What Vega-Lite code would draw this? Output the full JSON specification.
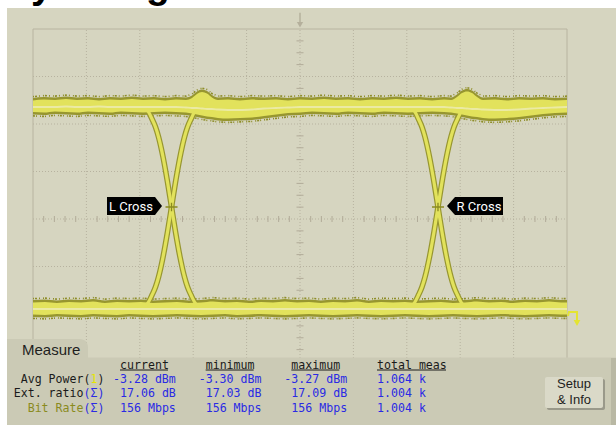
{
  "$schema": "https://vega.github.io/schema/vega-lite/v6.json",
  "width": 616,
  "height": 425,
  "autosize": {"type": "none"},
  "padding": 0,
  "background": "white",
  "datasets": {
    "ui": [
      {"part": "screen", "t1": -0.487, "t2": 10.918, "v1": 4.442, "v2": -4.337},
      {"part": "panel", "t1": -0.487, "t2": 10.918, "v1": -2.916, "v2": -4.337},
      {"part": "tab", "t1": -0.487, "t2": 1.03, "v1": -2.526, "v2": -2.926},
      {"part": "strip", "t1": 10.824, "t2": 10.918, "v1": -2.926, "v2": -4.337},
      {"part": "btnshadow", "t1": 9.625, "t2": 10.712, "v1": -3.368, "v2": -4.021},
      {"part": "btn", "t1": 9.588, "t2": 10.674, "v1": -3.326, "v2": -3.979}
    ],
    "uitext": [
      {"part": "title", "text": "Eye Diagram", "t": -0.524, "v": 4.645},
      {"part": "tab", "text": "Measure", "t": -0.206, "v": -2.863},
      {"part": "btn", "text": "Setup", "t": 10.131, "v": -3.568},
      {"part": "btn", "text": "& Info", "t": 10.131, "v": -3.895}
    ],
    "grid": [
      {"d": "v", "p": 1}, {"d": "v", "p": 2}, {"d": "v", "p": 3}, {"d": "v", "p": 4}, {"d": "v", "p": 5},
      {"d": "v", "p": 6}, {"d": "v", "p": 7}, {"d": "v", "p": 8}, {"d": "v", "p": 9},
      {"d": "h", "p": -3}, {"d": "h", "p": -2}, {"d": "h", "p": -1}, {"d": "h", "p": 0},
      {"d": "h", "p": 1}, {"d": "h", "p": 2}, {"d": "h", "p": 3}
    ],
    "ticks": [
      {"d": "h", "p": 0.2}, {"d": "h", "p": 0.4}, {"d": "h", "p": 0.6}, {"d": "h", "p": 0.8},
      {"d": "h", "p": 1.2}, {"d": "h", "p": 1.4}, {"d": "h", "p": 1.6}, {"d": "h", "p": 1.8},
      {"d": "h", "p": 2.2}, {"d": "h", "p": 2.4}, {"d": "h", "p": 2.6}, {"d": "h", "p": 2.8},
      {"d": "h", "p": 3.2}, {"d": "h", "p": 3.4}, {"d": "h", "p": 3.6}, {"d": "h", "p": 3.8},
      {"d": "h", "p": 4.2}, {"d": "h", "p": 4.4}, {"d": "h", "p": 4.6}, {"d": "h", "p": 4.8},
      {"d": "h", "p": 5.2}, {"d": "h", "p": 5.4}, {"d": "h", "p": 5.6}, {"d": "h", "p": 5.8},
      {"d": "h", "p": 6.2}, {"d": "h", "p": 6.4}, {"d": "h", "p": 6.6}, {"d": "h", "p": 6.8},
      {"d": "h", "p": 7.2}, {"d": "h", "p": 7.4}, {"d": "h", "p": 7.6}, {"d": "h", "p": 7.8},
      {"d": "h", "p": 8.2}, {"d": "h", "p": 8.4}, {"d": "h", "p": 8.6}, {"d": "h", "p": 8.8},
      {"d": "h", "p": 9.2}, {"d": "h", "p": 9.4}, {"d": "h", "p": 9.6}, {"d": "h", "p": 9.8},
      {"d": "v", "p": -3.75}, {"d": "v", "p": -3.5}, {"d": "v", "p": -3.25},
      {"d": "v", "p": -2.75}, {"d": "v", "p": -2.5}, {"d": "v", "p": -2.25},
      {"d": "v", "p": -1.75}, {"d": "v", "p": -1.5}, {"d": "v", "p": -1.25},
      {"d": "v", "p": -0.75}, {"d": "v", "p": -0.5}, {"d": "v", "p": -0.25},
      {"d": "v", "p": 0.25}, {"d": "v", "p": 0.5}, {"d": "v", "p": 0.75},
      {"d": "v", "p": 1.25}, {"d": "v", "p": 1.5}, {"d": "v", "p": 1.75},
      {"d": "v", "p": 2.25}, {"d": "v", "p": 2.5}, {"d": "v", "p": 2.75},
      {"d": "v", "p": 3.25}, {"d": "v", "p": 3.5}, {"d": "v", "p": 3.75}
    ],
    "bands": [
      {"lv": "1", "t": 0, "hi": 2.547, "lo": 2.2, "c": 2.358},
      {"lv": "1", "t": 0.206, "hi": 2.568, "lo": 2.189, "c": 2.358},
      {"lv": "1", "t": 0.412, "hi": 2.558, "lo": 2.211, "c": 2.358},
      {"lv": "1", "t": 0.618, "hi": 2.579, "lo": 2.2, "c": 2.368},
      {"lv": "1", "t": 0.824, "hi": 2.558, "lo": 2.189, "c": 2.358},
      {"lv": "1", "t": 1.03, "hi": 2.568, "lo": 2.211, "c": 2.358},
      {"lv": "1", "t": 1.236, "hi": 2.547, "lo": 2.2, "c": 2.368},
      {"lv": "1", "t": 1.442, "hi": 2.568, "lo": 2.189, "c": 2.358},
      {"lv": "1", "t": 1.648, "hi": 2.558, "lo": 2.211, "c": 2.358},
      {"lv": "1", "t": 1.854, "hi": 2.579, "lo": 2.2, "c": 2.358},
      {"lv": "1", "t": 2.06, "hi": 2.558, "lo": 2.189, "c": 2.358},
      {"lv": "1", "t": 2.266, "hi": 2.568, "lo": 2.2, "c": 2.358},
      {"lv": "1", "t": 2.472, "hi": 2.547, "lo": 2.211, "c": 2.358},
      {"lv": "1", "t": 2.678, "hi": 2.568, "lo": 2.2, "c": 2.358},
      {"lv": "1", "t": 2.865, "hi": 2.558, "lo": 2.189, "c": 2.347},
      {"lv": "1", "t": 2.978, "hi": 2.6, "lo": 2.168, "c": 2.337},
      {"lv": "1", "t": 3.071, "hi": 2.684, "lo": 2.147, "c": 2.337},
      {"lv": "1", "t": 3.165, "hi": 2.726, "lo": 2.126, "c": 2.326},
      {"lv": "1", "t": 3.258, "hi": 2.695, "lo": 2.105, "c": 2.316},
      {"lv": "1", "t": 3.352, "hi": 2.611, "lo": 2.095, "c": 2.316},
      {"lv": "1", "t": 3.464, "hi": 2.558, "lo": 2.074, "c": 2.305},
      {"lv": "1", "t": 3.652, "hi": 2.568, "lo": 2.063, "c": 2.295},
      {"lv": "1", "t": 3.876, "hi": 2.547, "lo": 2.074, "c": 2.295},
      {"lv": "1", "t": 4.101, "hi": 2.568, "lo": 2.084, "c": 2.305},
      {"lv": "1", "t": 4.326, "hi": 2.558, "lo": 2.116, "c": 2.326},
      {"lv": "1", "t": 4.551, "hi": 2.568, "lo": 2.147, "c": 2.337},
      {"lv": "1", "t": 4.775, "hi": 2.547, "lo": 2.179, "c": 2.347},
      {"lv": "1", "t": 5, "hi": 2.568, "lo": 2.189, "c": 2.358},
      {"lv": "1", "t": 5.225, "hi": 2.558, "lo": 2.211, "c": 2.358},
      {"lv": "1", "t": 5.449, "hi": 2.579, "lo": 2.2, "c": 2.358},
      {"lv": "1", "t": 5.674, "hi": 2.558, "lo": 2.189, "c": 2.358},
      {"lv": "1", "t": 5.899, "hi": 2.568, "lo": 2.211, "c": 2.358},
      {"lv": "1", "t": 6.124, "hi": 2.547, "lo": 2.2, "c": 2.358},
      {"lv": "1", "t": 6.348, "hi": 2.568, "lo": 2.189, "c": 2.358},
      {"lv": "1", "t": 6.573, "hi": 2.558, "lo": 2.211, "c": 2.358},
      {"lv": "1", "t": 6.798, "hi": 2.579, "lo": 2.2, "c": 2.358},
      {"lv": "1", "t": 7.022, "hi": 2.558, "lo": 2.189, "c": 2.358},
      {"lv": "1", "t": 7.247, "hi": 2.568, "lo": 2.2, "c": 2.358},
      {"lv": "1", "t": 7.472, "hi": 2.547, "lo": 2.211, "c": 2.358},
      {"lv": "1", "t": 7.697, "hi": 2.568, "lo": 2.2, "c": 2.358},
      {"lv": "1", "t": 7.828, "hi": 2.558, "lo": 2.189, "c": 2.347},
      {"lv": "1", "t": 7.94, "hi": 2.621, "lo": 2.168, "c": 2.337},
      {"lv": "1", "t": 8.034, "hi": 2.705, "lo": 2.147, "c": 2.337},
      {"lv": "1", "t": 8.127, "hi": 2.737, "lo": 2.126, "c": 2.326},
      {"lv": "1", "t": 8.221, "hi": 2.705, "lo": 2.105, "c": 2.316},
      {"lv": "1", "t": 8.315, "hi": 2.621, "lo": 2.095, "c": 2.316},
      {"lv": "1", "t": 8.427, "hi": 2.558, "lo": 2.074, "c": 2.305},
      {"lv": "1", "t": 8.652, "hi": 2.568, "lo": 2.063, "c": 2.295},
      {"lv": "1", "t": 8.876, "hi": 2.547, "lo": 2.074, "c": 2.295},
      {"lv": "1", "t": 9.101, "hi": 2.568, "lo": 2.095, "c": 2.305},
      {"lv": "1", "t": 9.326, "hi": 2.558, "lo": 2.126, "c": 2.326},
      {"lv": "1", "t": 9.551, "hi": 2.568, "lo": 2.158, "c": 2.337},
      {"lv": "1", "t": 9.775, "hi": 2.547, "lo": 2.179, "c": 2.347},
      {"lv": "1", "t": 10, "hi": 2.558, "lo": 2.189, "c": 2.358},
      {"lv": "0", "t": 0, "hi": -1.705, "lo": -2.063, "c": -1.895},
      {"lv": "0", "t": 0.225, "hi": -1.695, "lo": -2.074, "c": -1.895},
      {"lv": "0", "t": 0.449, "hi": -1.716, "lo": -2.053, "c": -1.895},
      {"lv": "0", "t": 0.674, "hi": -1.695, "lo": -2.063, "c": -1.895},
      {"lv": "0", "t": 0.899, "hi": -1.705, "lo": -2.074, "c": -1.895},
      {"lv": "0", "t": 1.124, "hi": -1.684, "lo": -2.053, "c": -1.895},
      {"lv": "0", "t": 1.348, "hi": -1.716, "lo": -2.063, "c": -1.895},
      {"lv": "0", "t": 1.573, "hi": -1.695, "lo": -2.074, "c": -1.895},
      {"lv": "0", "t": 1.798, "hi": -1.705, "lo": -2.053, "c": -1.895},
      {"lv": "0", "t": 2.022, "hi": -1.695, "lo": -2.063, "c": -1.895},
      {"lv": "0", "t": 2.247, "hi": -1.716, "lo": -2.074, "c": -1.895},
      {"lv": "0", "t": 2.472, "hi": -1.705, "lo": -2.063, "c": -1.895},
      {"lv": "0", "t": 2.697, "hi": -1.695, "lo": -2.053, "c": -1.895},
      {"lv": "0", "t": 2.921, "hi": -1.716, "lo": -2.063, "c": -1.895},
      {"lv": "0", "t": 3.146, "hi": -1.705, "lo": -2.074, "c": -1.895},
      {"lv": "0", "t": 3.371, "hi": -1.684, "lo": -2.063, "c": -1.895},
      {"lv": "0", "t": 3.596, "hi": -1.705, "lo": -2.053, "c": -1.895},
      {"lv": "0", "t": 3.82, "hi": -1.695, "lo": -2.074, "c": -1.895},
      {"lv": "0", "t": 4.045, "hi": -1.716, "lo": -2.063, "c": -1.895},
      {"lv": "0", "t": 4.27, "hi": -1.695, "lo": -2.053, "c": -1.895},
      {"lv": "0", "t": 4.494, "hi": -1.705, "lo": -2.063, "c": -1.895},
      {"lv": "0", "t": 4.719, "hi": -1.684, "lo": -2.074, "c": -1.895},
      {"lv": "0", "t": 4.944, "hi": -1.705, "lo": -2.063, "c": -1.895},
      {"lv": "0", "t": 5.169, "hi": -1.695, "lo": -2.053, "c": -1.895},
      {"lv": "0", "t": 5.393, "hi": -1.716, "lo": -2.063, "c": -1.895},
      {"lv": "0", "t": 5.618, "hi": -1.695, "lo": -2.074, "c": -1.895},
      {"lv": "0", "t": 5.843, "hi": -1.705, "lo": -2.063, "c": -1.895},
      {"lv": "0", "t": 6.067, "hi": -1.684, "lo": -2.053, "c": -1.895},
      {"lv": "0", "t": 6.292, "hi": -1.716, "lo": -2.063, "c": -1.895},
      {"lv": "0", "t": 6.517, "hi": -1.695, "lo": -2.074, "c": -1.895},
      {"lv": "0", "t": 6.742, "hi": -1.705, "lo": -2.063, "c": -1.895},
      {"lv": "0", "t": 6.966, "hi": -1.695, "lo": -2.053, "c": -1.895},
      {"lv": "0", "t": 7.191, "hi": -1.716, "lo": -2.063, "c": -1.895},
      {"lv": "0", "t": 7.416, "hi": -1.705, "lo": -2.074, "c": -1.895},
      {"lv": "0", "t": 7.64, "hi": -1.695, "lo": -2.063, "c": -1.895},
      {"lv": "0", "t": 7.865, "hi": -1.716, "lo": -2.053, "c": -1.895},
      {"lv": "0", "t": 8.09, "hi": -1.705, "lo": -2.063, "c": -1.895},
      {"lv": "0", "t": 8.315, "hi": -1.684, "lo": -2.074, "c": -1.895},
      {"lv": "0", "t": 8.539, "hi": -1.705, "lo": -2.063, "c": -1.895},
      {"lv": "0", "t": 8.764, "hi": -1.695, "lo": -2.053, "c": -1.895},
      {"lv": "0", "t": 8.989, "hi": -1.716, "lo": -2.063, "c": -1.895},
      {"lv": "0", "t": 9.213, "hi": -1.695, "lo": -2.074, "c": -1.895},
      {"lv": "0", "t": 9.438, "hi": -1.705, "lo": -2.063, "c": -1.895},
      {"lv": "0", "t": 9.663, "hi": -1.684, "lo": -2.053, "c": -1.895},
      {"lv": "0", "t": 9.888, "hi": -1.705, "lo": -2.063, "c": -1.895},
      {"lv": "0", "t": 10, "hi": -1.705, "lo": -2.063, "c": -1.895}
    ],
    "edges": [
      {"e": "Lr", "t": 1.957, "v": -1.895}, {"e": "Lr", "t": 2.088, "v": -1.842}, {"e": "Lr", "t": 2.163, "v": -1.747},
      {"e": "Lr", "t": 2.229, "v": -1.6}, {"e": "Lr", "t": 2.294, "v": -1.432}, {"e": "Lr", "t": 2.351, "v": -1.221},
      {"e": "Lr", "t": 2.435, "v": -0.8}, {"e": "Lr", "t": 2.519, "v": -0.274}, {"e": "Lr", "t": 2.594, "v": 0.253},
      {"e": "Lr", "t": 2.669, "v": 0.779}, {"e": "Lr", "t": 2.753, "v": 1.305}, {"e": "Lr", "t": 2.837, "v": 1.726},
      {"e": "Lr", "t": 2.894, "v": 1.937}, {"e": "Lr", "t": 2.959, "v": 2.105}, {"e": "Lr", "t": 3.025, "v": 2.253},
      {"e": "Lr", "t": 3.1, "v": 2.337}, {"e": "Lr", "t": 3.231, "v": 2.368},
      {"e": "Lf", "t": 1.957, "v": 2.368}, {"e": "Lf", "t": 2.088, "v": 2.337}, {"e": "Lf", "t": 2.163, "v": 2.253},
      {"e": "Lf", "t": 2.229, "v": 2.105}, {"e": "Lf", "t": 2.294, "v": 1.937}, {"e": "Lf", "t": 2.351, "v": 1.726},
      {"e": "Lf", "t": 2.435, "v": 1.305}, {"e": "Lf", "t": 2.519, "v": 0.779}, {"e": "Lf", "t": 2.594, "v": 0.253},
      {"e": "Lf", "t": 2.669, "v": -0.274}, {"e": "Lf", "t": 2.753, "v": -0.8}, {"e": "Lf", "t": 2.837, "v": -1.221},
      {"e": "Lf", "t": 2.894, "v": -1.432}, {"e": "Lf", "t": 2.959, "v": -1.6}, {"e": "Lf", "t": 3.025, "v": -1.747},
      {"e": "Lf", "t": 3.1, "v": -1.842}, {"e": "Lf", "t": 3.231, "v": -1.895},
      {"e": "Rr", "t": 6.947, "v": -1.895}, {"e": "Rr", "t": 7.078, "v": -1.842}, {"e": "Rr", "t": 7.153, "v": -1.747},
      {"e": "Rr", "t": 7.219, "v": -1.6}, {"e": "Rr", "t": 7.284, "v": -1.432}, {"e": "Rr", "t": 7.341, "v": -1.221},
      {"e": "Rr", "t": 7.425, "v": -0.8}, {"e": "Rr", "t": 7.509, "v": -0.274}, {"e": "Rr", "t": 7.584, "v": 0.253},
      {"e": "Rr", "t": 7.659, "v": 0.779}, {"e": "Rr", "t": 7.743, "v": 1.305}, {"e": "Rr", "t": 7.827, "v": 1.726},
      {"e": "Rr", "t": 7.884, "v": 1.937}, {"e": "Rr", "t": 7.949, "v": 2.105}, {"e": "Rr", "t": 8.015, "v": 2.253},
      {"e": "Rr", "t": 8.09, "v": 2.337}, {"e": "Rr", "t": 8.221, "v": 2.368},
      {"e": "Rf", "t": 6.947, "v": 2.368}, {"e": "Rf", "t": 7.078, "v": 2.337}, {"e": "Rf", "t": 7.153, "v": 2.253},
      {"e": "Rf", "t": 7.219, "v": 2.105}, {"e": "Rf", "t": 7.284, "v": 1.937}, {"e": "Rf", "t": 7.341, "v": 1.726},
      {"e": "Rf", "t": 7.425, "v": 1.305}, {"e": "Rf", "t": 7.509, "v": 0.779}, {"e": "Rf", "t": 7.584, "v": 0.253},
      {"e": "Rf", "t": 7.659, "v": -0.274}, {"e": "Rf", "t": 7.743, "v": -0.8}, {"e": "Rf", "t": 7.827, "v": -1.221},
      {"e": "Rf", "t": 7.884, "v": -1.432}, {"e": "Rf", "t": 7.949, "v": -1.6}, {"e": "Rf", "t": 8.015, "v": -1.747},
      {"e": "Rf", "t": 8.09, "v": -1.842}, {"e": "Rf", "t": 8.221, "v": -1.895}
    ],
    "cross": [
      {"name": "L Cross", "side": "L", "t": 2.594, "v": 0.253},
      {"name": "R Cross", "side": "R", "t": 7.584, "v": 0.253}
    ],
    "gnd": [
      {"i": 0, "t": 10.019, "v": -2.042},
      {"i": 1, "t": 10.037, "v": -1.958},
      {"i": 2, "t": 10.187, "v": -1.958},
      {"i": 3, "t": 10.187, "v": -2.147}
    ],
    "meas": [
      {"row": "head", "col": "current", "role": "head", "text": "current"},
      {"row": "head", "col": "minimum", "role": "head", "text": "minimum"},
      {"row": "head", "col": "maximum", "role": "head", "text": "maximum"},
      {"row": "head", "col": "total", "role": "head", "text": "total meas"},
      {"row": "avg", "col": "current", "role": "value", "text": "-3.28 dBm"},
      {"row": "avg", "col": "minimum", "role": "value", "text": "-3.30 dBm"},
      {"row": "avg", "col": "maximum", "role": "value", "text": "-3.27 dBm"},
      {"row": "avg", "col": "total", "role": "value", "text": "1.064 k"},
      {"row": "ext", "col": "current", "role": "value", "text": "17.06 dB"},
      {"row": "ext", "col": "minimum", "role": "value", "text": "17.03 dB"},
      {"row": "ext", "col": "maximum", "role": "value", "text": "17.09 dB"},
      {"row": "ext", "col": "total", "role": "value", "text": "1.004 k"},
      {"row": "bit", "col": "current", "role": "value", "text": "156 Mbps"},
      {"row": "bit", "col": "minimum", "role": "value", "text": "156 Mbps"},
      {"row": "bit", "col": "maximum", "role": "value", "text": "156 Mbps"},
      {"row": "bit", "col": "total", "role": "value", "text": "1.004 k"}
    ],
    "lab": [
      {"row": "avg", "seg": "b", "role": "name", "text": "Avg Power("},
      {"row": "avg", "seg": "c", "role": "chan", "text": "1"},
      {"row": "avg", "seg": "d", "role": "name", "text": ")"},
      {"row": "ext", "seg": "a", "role": "name", "text": "Ext. ratio"},
      {"row": "ext", "seg": "d", "role": "sum", "text": "(Σ)"},
      {"row": "bit", "seg": "a", "role": "bitname", "text": "Bit Rate"},
      {"row": "bit", "seg": "d", "role": "sum", "text": "(Σ)"}
    ]
  },
  "layer": [
    {
      "layer": [
        {
          "data": {"name": "ui"},
          "transform": [{"filter": "datum.part === 'screen'"}],
          "mark": {"type": "rect", "color": "#d6d5c0"},
          "encoding": {
            "x": {"field": "t1", "type": "quantitative", "axis": null, "scale": {"domain": [0, 10], "range": [33, 567], "nice": false, "zero": false}},
            "x2": {"field": "t2"},
            "y": {"field": "v1", "type": "quantitative", "axis": null, "scale": {"domain": [-4, 4], "range": [409, 29], "nice": false, "zero": false}},
            "y2": {"field": "v2"}
          }
        },
        {
          "data": {"name": "uitext"},
          "transform": [{"filter": "datum.part === 'title'"}],
          "mark": {"type": "text", "align": "left", "baseline": "alphabetic", "font": "Liberation Sans", "fontSize": 39, "fontWeight": "bold", "color": "#000000"},
          "encoding": {
            "x": {"field": "t", "type": "quantitative"},
            "y": {"field": "v", "type": "quantitative"},
            "text": {"field": "text"}
          }
        },
        {
          "data": {"name": "grid"},
          "transform": [{"filter": "datum.d === 'v'"}],
          "mark": {"type": "rule", "color": "#b7b29f", "strokeDash": [1, 2], "strokeWidth": 1},
          "encoding": {
            "x": {"field": "p", "type": "quantitative"},
            "y": {"datum": -4, "type": "quantitative"},
            "y2": {"datum": 4}
          }
        },
        {
          "data": {"name": "grid"},
          "transform": [{"filter": "datum.d === 'h'"}],
          "mark": {"type": "rule", "color": "#b7b29f", "strokeDash": [1, 2], "strokeWidth": 1},
          "encoding": {
            "y": {"field": "p", "type": "quantitative"},
            "x": {"datum": 0, "type": "quantitative"},
            "x2": {"datum": 10}
          }
        },
        {
          "data": {"name": "ticks"},
          "transform": [{"filter": "datum.d === 'h'"}],
          "mark": {"type": "tick", "orient": "vertical", "size": 6, "thickness": 1, "color": "#b1ab98", "opacity": 1},
          "encoding": {
            "x": {"field": "p", "type": "quantitative"},
            "y": {"datum": 0, "type": "quantitative"}
          }
        },
        {
          "data": {"name": "ticks"},
          "transform": [{"filter": "datum.d === 'v'"}],
          "mark": {"type": "tick", "orient": "horizontal", "size": 7, "thickness": 1, "color": "#b1ab98", "opacity": 1},
          "encoding": {
            "y": {"field": "p", "type": "quantitative"},
            "x": {"datum": 5, "type": "quantitative"}
          }
        },
        {
          "data": {"values": [{}]},
          "mark": {"type": "rect", "filled": false, "stroke": "#b8b4a0", "strokeWidth": 1},
          "encoding": {
            "x": {"datum": 0, "type": "quantitative"},
            "x2": {"datum": 10},
            "y": {"datum": -4, "type": "quantitative"},
            "y2": {"datum": 4}
          }
        },
        {
          "data": {"values": [{}]},
          "mark": {"type": "rule", "color": "#b5b09c", "strokeWidth": 1.5},
          "encoding": {
            "x": {"datum": 5, "type": "quantitative"},
            "y": {"datum": 4.34, "type": "quantitative"},
            "y2": {"datum": 4.12}
          }
        },
        {
          "data": {"values": [{}]},
          "mark": {"type": "point", "shape": "triangle-down", "filled": true, "size": 40, "color": "#b5b09c", "opacity": 1},
          "encoding": {
            "x": {"datum": 5, "type": "quantitative"},
            "y": {"datum": 4.09, "type": "quantitative"}
          }
        },
        {
          "data": {"name": "bands"},
          "mark": {"type": "area", "color": "#979630", "interpolate": "monotone", "opacity": 1},
          "encoding": {
            "x": {"field": "t", "type": "quantitative"},
            "y": {"field": "hi", "type": "quantitative"},
            "y2": {"field": "lo"},
            "detail": {"field": "lv"}
          }
        },
        {
          "data": {"name": "bands"},
          "mark": {"type": "line", "color": "#8e8d28", "strokeWidth": 1.6, "strokeDash": [1, 1, 2, 2, 1, 3], "yOffset": -1.4},
          "encoding": {
            "x": {"field": "t", "type": "quantitative"},
            "y": {"field": "hi", "type": "quantitative"},
            "detail": {"field": "lv"}
          }
        },
        {
          "data": {"name": "bands"},
          "mark": {"type": "line", "color": "#8e8d28", "strokeWidth": 1.6, "strokeDash": [2, 1, 1, 3, 1, 1], "yOffset": 1.4},
          "encoding": {
            "x": {"field": "t", "type": "quantitative"},
            "y": {"field": "lo", "type": "quantitative"},
            "detail": {"field": "lv"}
          }
        },
        {
          "data": {"name": "edges"},
          "mark": {"type": "line", "color": "#979630", "strokeWidth": 5.6, "interpolate": "monotone"},
          "encoding": {
            "x": {"field": "t", "type": "quantitative"},
            "y": {"field": "v", "type": "quantitative"},
            "detail": {"field": "e"}
          }
        },
        {
          "data": {"name": "bands"},
          "mark": {"type": "area", "color": "#e2e25c", "interpolate": "monotone", "opacity": 1, "yOffset": 2.6, "y2Offset": -2.6},
          "encoding": {
            "x": {"field": "t", "type": "quantitative"},
            "y": {"field": "hi", "type": "quantitative"},
            "y2": {"field": "lo"},
            "detail": {"field": "lv"}
          }
        },
        {
          "data": {"name": "edges"},
          "mark": {"type": "line", "color": "#e2e25c", "strokeWidth": 3.2, "interpolate": "monotone"},
          "encoding": {
            "x": {"field": "t", "type": "quantitative"},
            "y": {"field": "v", "type": "quantitative"},
            "detail": {"field": "e"}
          }
        },
        {
          "data": {"name": "bands"},
          "mark": {"type": "line", "color": "#ecebb0", "strokeWidth": 1.8, "opacity": 0.85, "interpolate": "monotone"},
          "encoding": {
            "x": {"field": "t", "type": "quantitative"},
            "y": {"field": "c", "type": "quantitative"},
            "detail": {"field": "lv"}
          }
        },
        {
          "data": {"name": "cross"},
          "mark": {"type": "point", "shape": "M-1,0L1,0M0,-0.7L0,0.7", "filled": false, "stroke": "#8a8a20", "strokeWidth": 1.3, "size": 144, "opacity": 1},
          "encoding": {
            "x": {"field": "t", "type": "quantitative"},
            "y": {"field": "v", "type": "quantitative"}
          }
        },
        {
          "data": {"name": "cross"},
          "transform": [{"filter": "datum.side === 'L'"}],
          "mark": {"type": "point", "shape": "M-1,-0.327L0.745,-0.327L1,0L0.745,0.327L-1,0.327Z", "filled": true, "color": "#000000", "size": 3025, "opacity": 1, "xOffset": -37, "yOffset": -1},
          "encoding": {
            "x": {"field": "t", "type": "quantitative"},
            "y": {"field": "v", "type": "quantitative"}
          }
        },
        {
          "data": {"name": "cross"},
          "transform": [{"filter": "datum.side === 'R'"}],
          "mark": {"type": "point", "shape": "M1,-0.321L-0.714,-0.321L-1,0L-0.714,0.321L1,0.321Z", "filled": true, "color": "#000000", "size": 3136, "opacity": 1, "xOffset": 37, "yOffset": -1},
          "encoding": {
            "x": {"field": "t", "type": "quantitative"},
            "y": {"field": "v", "type": "quantitative"}
          }
        },
        {
          "data": {"name": "cross"},
          "transform": [{"filter": "datum.side === 'L'"}],
          "mark": {"type": "text", "color": "#ffffff", "font": "Roboto", "fontSize": 13, "align": "center", "baseline": "middle", "dx": -40.5, "dy": 0},
          "encoding": {
            "x": {"field": "t", "type": "quantitative"},
            "y": {"field": "v", "type": "quantitative"},
            "text": {"field": "name"}
          }
        },
        {
          "data": {"name": "cross"},
          "transform": [{"filter": "datum.side === 'R'"}],
          "mark": {"type": "text", "color": "#ffffff", "font": "Roboto", "fontSize": 13, "align": "center", "baseline": "middle", "dx": 41, "dy": 0},
          "encoding": {
            "x": {"field": "t", "type": "quantitative"},
            "y": {"field": "v", "type": "quantitative"},
            "text": {"field": "name"}
          }
        },
        {
          "data": {"name": "gnd"},
          "mark": {"type": "line", "color": "#e4e432", "strokeWidth": 2},
          "encoding": {
            "x": {"field": "t", "type": "quantitative"},
            "y": {"field": "v", "type": "quantitative"},
            "order": {"field": "i"}
          }
        },
        {
          "data": {"values": [{}]},
          "mark": {"type": "point", "shape": "triangle-down", "filled": true, "size": 45, "color": "#e4e432", "opacity": 1},
          "encoding": {
            "x": {"datum": 10.187, "type": "quantitative"},
            "y": {"datum": -2.19, "type": "quantitative"}
          }
        },
        {
          "data": {"name": "ui"},
          "transform": [{"filter": "datum.part === 'panel'"}],
          "mark": {"type": "rect", "color": "#cbcab5"},
          "encoding": {
            "x": {"field": "t1", "type": "quantitative"},
            "x2": {"field": "t2"},
            "y": {"field": "v1", "type": "quantitative"},
            "y2": {"field": "v2"}
          }
        },
        {
          "data": {"name": "ui"},
          "transform": [{"filter": "datum.part === 'tab'"}],
          "mark": {"type": "rect", "color": "#cbcab5", "cornerRadiusTopRight": 8},
          "encoding": {
            "x": {"field": "t1", "type": "quantitative"},
            "x2": {"field": "t2"},
            "y": {"field": "v1", "type": "quantitative"},
            "y2": {"field": "v2"}
          }
        },
        {
          "data": {"name": "ui"},
          "transform": [{"filter": "datum.part === 'strip'"}],
          "mark": {"type": "rect", "color": "#b9b8a4"},
          "encoding": {
            "x": {"field": "t1", "type": "quantitative"},
            "x2": {"field": "t2"},
            "y": {"field": "v1", "type": "quantitative"},
            "y2": {"field": "v2"}
          }
        },
        {
          "data": {"name": "ui"},
          "transform": [{"filter": "datum.part === 'btnshadow'"}],
          "mark": {"type": "rect", "color": "#9a998a", "cornerRadius": 2},
          "encoding": {
            "x": {"field": "t1", "type": "quantitative"},
            "x2": {"field": "t2"},
            "y": {"field": "v1", "type": "quantitative"},
            "y2": {"field": "v2"}
          }
        },
        {
          "data": {"name": "ui"},
          "transform": [{"filter": "datum.part === 'btn'"}],
          "mark": {"type": "rect", "color": "#dad9c8", "cornerRadius": 2},
          "encoding": {
            "x": {"field": "t1", "type": "quantitative"},
            "x2": {"field": "t2"},
            "y": {"field": "v1", "type": "quantitative"},
            "y2": {"field": "v2"}
          }
        },
        {
          "data": {"name": "uitext"},
          "transform": [{"filter": "datum.part === 'tab'"}],
          "mark": {"type": "text", "align": "left", "baseline": "alphabetic", "font": "Liberation Sans", "fontSize": 15, "color": "#1e1e1e"},
          "encoding": {
            "x": {"field": "t", "type": "quantitative"},
            "y": {"field": "v", "type": "quantitative"},
            "text": {"field": "text"}
          }
        },
        {
          "data": {"name": "uitext"},
          "transform": [{"filter": "datum.part === 'btn'"}],
          "mark": {"type": "text", "align": "center", "baseline": "alphabetic", "font": "Liberation Sans", "fontSize": 13, "color": "#1e1e1e"},
          "encoding": {
            "x": {"field": "t", "type": "quantitative"},
            "y": {"field": "v", "type": "quantitative"},
            "text": {"field": "text"}
          }
        }
      ]
    },
    {
      "layer": [
        {
          "data": {"name": "meas"},
          "transform": [{"filter": "datum.role === 'head' || (datum.role === 'value' && indexof(datum.text, '-') !== 0)"}],
          "mark": {"type": "text", "align": "left", "baseline": "alphabetic", "font": "DejaVu Sans Mono", "fontSize": 11.6},
          "encoding": {
            "x": {"field": "col", "type": "nominal", "axis": null, "scale": {"type": "point", "domain": ["current", "minimum", "maximum", "total"], "range": [120, 377], "padding": 0}},
            "y": {"field": "row", "type": "nominal", "axis": null, "scale": {"type": "point", "domain": ["head", "avg", "ext", "bit"], "range": [368.5, 411.5], "padding": 0}},
            "text": {"field": "text"},
            "color": {"field": "role", "type": "nominal", "legend": null, "scale": {"domain": ["name", "bitname", "chan", "sum", "value", "head"], "range": ["#1a1a1a", "#8a8a1e", "#e6e600", "#2a2ae4", "#2a2ae4", "#1a1a1a"]}}
          }
        },
        {
          "data": {"name": "meas"},
          "transform": [{"filter": "datum.role === 'head' && datum.col !== 'total'"}],
          "mark": {"type": "rule", "color": "#1a1a1a", "strokeWidth": 1, "x2Offset": 48, "yOffset": 1.5},
          "encoding": {
            "x": {"field": "col", "type": "nominal"},
            "x2": {"field": "col"},
            "y": {"field": "row", "type": "nominal"}
          }
        },
        {
          "data": {"name": "meas"},
          "transform": [{"filter": "datum.role === 'head' && datum.col === 'total'"}],
          "mark": {"type": "rule", "color": "#1a1a1a", "strokeWidth": 1, "x2Offset": 69, "yOffset": 1.5},
          "encoding": {
            "x": {"field": "col", "type": "nominal"},
            "x2": {"field": "col"},
            "y": {"field": "row", "type": "nominal"}
          }
        },
        {
          "data": {"name": "meas"},
          "transform": [{"filter": "datum.role === 'value' && indexof(datum.text, '-') === 0"}],
          "mark": {"type": "text", "align": "left", "baseline": "alphabetic", "font": "DejaVu Sans Mono", "fontSize": 11.6, "dx": -7},
          "encoding": {
            "x": {"field": "col", "type": "nominal"},
            "y": {"field": "row", "type": "nominal"},
            "text": {"field": "text"},
            "color": {"field": "role", "type": "nominal", "legend": null}
          }
        },
        {
          "data": {"name": "lab"},
          "transform": [{"filter": "datum.seg === 'a'"}],
          "mark": {"type": "text", "align": "right", "baseline": "alphabetic", "font": "DejaVu Sans Mono", "fontSize": 11.6, "dx": -36.5},
          "encoding": {
            "x": {"datum": "current", "type": "nominal"},
            "y": {"field": "row", "type": "nominal"},
            "text": {"field": "text"},
            "color": {"field": "role", "type": "nominal", "legend": null}
          }
        },
        {
          "data": {"name": "lab"},
          "transform": [{"filter": "datum.seg === 'b'"}],
          "mark": {"type": "text", "align": "right", "baseline": "alphabetic", "font": "DejaVu Sans Mono", "fontSize": 11.6, "dx": -29.5},
          "encoding": {
            "x": {"datum": "current", "type": "nominal"},
            "y": {"field": "row", "type": "nominal"},
            "text": {"field": "text"},
            "color": {"field": "role", "type": "nominal", "legend": null}
          }
        },
        {
          "data": {"name": "lab"},
          "transform": [{"filter": "datum.seg === 'c'"}],
          "mark": {"type": "text", "align": "right", "baseline": "alphabetic", "font": "DejaVu Sans Mono", "fontSize": 11.6, "dx": -22.5},
          "encoding": {
            "x": {"datum": "current", "type": "nominal"},
            "y": {"field": "row", "type": "nominal"},
            "text": {"field": "text"},
            "color": {"field": "role", "type": "nominal", "legend": null}
          }
        },
        {
          "data": {"name": "lab"},
          "transform": [{"filter": "datum.seg === 'd'"}],
          "mark": {"type": "text", "align": "right", "baseline": "alphabetic", "font": "DejaVu Sans Mono", "fontSize": 11.6, "dx": -15.5},
          "encoding": {
            "x": {"datum": "current", "type": "nominal"},
            "y": {"field": "row", "type": "nominal"},
            "text": {"field": "text"},
            "color": {"field": "role", "type": "nominal", "legend": null}
          }
        }
      ]
    }
  ],
  "resolve": {"scale": {"x": "independent", "y": "independent"}},
  "config": {
    "view": {"stroke": null},
    "axis": {"disable": true},
    "legend": {"disable": true}
  }
}
